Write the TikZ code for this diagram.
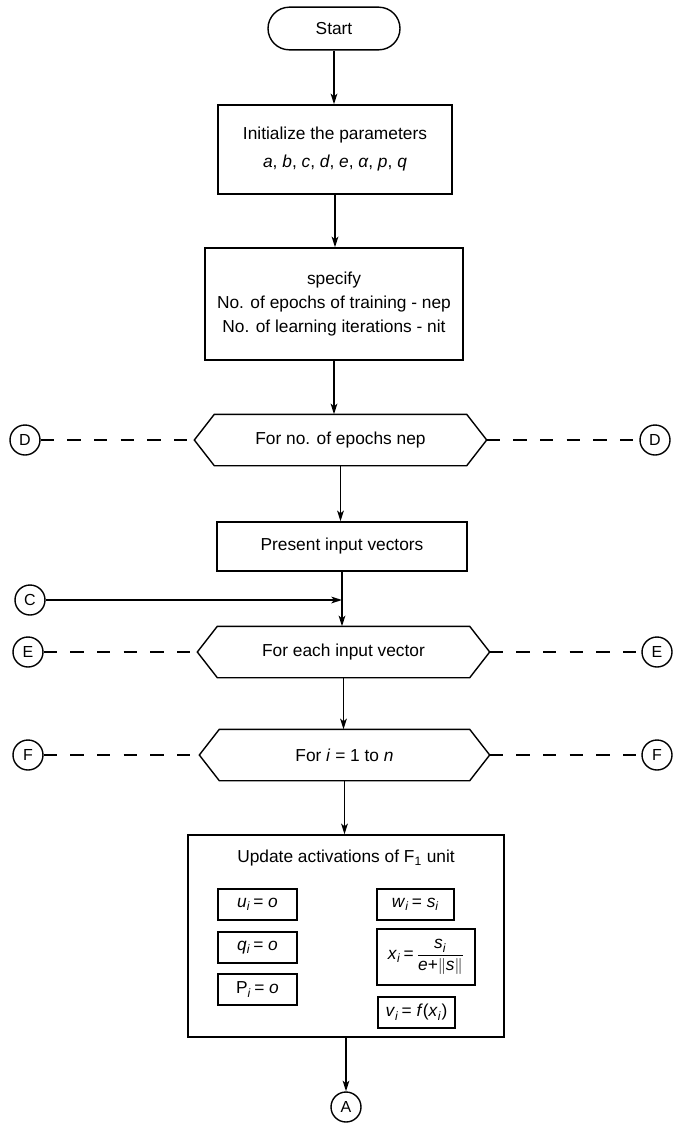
\documentclass[tikz,border=0pt]{standalone}
\usepackage{fontspec}
\setmainfont{Liberation Sans}
\usetikzlibrary{arrows.meta}
\newcommand\hexframe[1]{\draw ([xshift=-15pt]#1.west) -- (#1.north west) -- (#1.north east) -- ([xshift=15pt]#1.east) -- (#1.south east) -- (#1.south west) -- cycle;}
\begin{document}
\begin{tikzpicture}[x=0.75pt,y=-0.75pt,
  font=\fontsize{13}{16}\selectfont,
  line width=1.05pt,
  box/.style={draw, rectangle, inner sep=0pt, align=center},
  hexbox/.style={inner sep=0pt, minimum height=37.5pt, align=center},
  conn/.style={draw, circle, inner sep=0pt, minimum size=22.5pt, font=\fontsize{12}{14}\selectfont},
  fbox/.style={draw, rectangle, inner sep=0pt, line width=1.3pt},
  arr/.style={-{Stealth[length=8pt,width=5pt,inset=2pt]}},
  dsh/.style={dash pattern=on 10pt off 10pt}
]
\useasboundingbox (0,0) rectangle (673,1125);

% main column
\node[box, rounded corners=16pt, minimum width=99pt, minimum height=32pt] (start) at (334,28.5) {Start};
\node[box, minimum width=175.5pt, minimum height=66.75pt] (init) at (335,149.5)
  {Initialize the parameters\\[5pt]\textit{a}, \textit{b}, \textit{c}, \textit{d}, \textit{e}, \textit{α}, \textit{p}, \textit{q}};
\node[box, minimum width=193.5pt, minimum height=84pt] (spec) at (334,304)
  {specify\\[2pt]No. of epochs of training - nep\\[2pt]No. of learning iterations - nit};
\node[hexbox, minimum width=188.25pt] (D) at (340.5,440) {For no. of epochs nep};
\hexframe{D}
\node[box, minimum width=187.5pt, minimum height=36.75pt] (present) at (342,546.5) {Present input vectors};
\node[hexbox, minimum width=188.25pt] (E) at (343.5,652) {For each input vector};
\hexframe{E}
\node[hexbox, minimum width=186.75pt] (F) at (344.5,755) {For \textit{i} = 1 to \textit{n}};
\hexframe{F}
\node[box, minimum width=237pt, minimum height=151.5pt] (update) at (346,936) {};
\node (utitle) at (346,858) {Update activations of F\textsubscript{1} unit};

% formula boxes
\node[fbox, minimum width=59.25pt, minimum height=23.25pt] (ub) at (257.5,904.5) {\textit{u}\textsubscript{\textit{i}}\,= \textit{o}};
\node[fbox, minimum width=59.25pt, minimum height=23.25pt] (qb) at (257.5,947.5) {\textit{q}\textsubscript{\textit{i}}\,= \textit{o}};
\node[fbox, minimum width=59.25pt, minimum height=23.25pt] (pb) at (257.5,989.5) {P\textsubscript{\textit{i}}\,= \textit{o}};
\node[fbox, minimum width=57.75pt, minimum height=23.25pt] (wb) at (415.5,904.5) {\textit{w}\textsubscript{\textit{i}}\,= \textit{s}\textsubscript{\textit{i}}};
\node[fbox, minimum width=73.5pt, minimum height=42pt] (xb) at (426,957)
  {\textit{x}\textsubscript{\textit{i}}\,=\,$\displaystyle\frac{\mbox{\textit{s}\textsubscript{\textit{i}}}\rule[-2pt]{0pt}{2pt}}{\mbox{\textit{e}+}\|\mbox{\textit{s}}\|}$};
\node[fbox, minimum width=57.75pt, minimum height=23.25pt] (vb) at (416.5,1012.5) {\textit{v}\textsubscript{\textit{i}}\,= \textit{f}(\textit{x}\textsubscript{\textit{i}})};

% connectors
\node[conn] (A) at (346,1107) {A};
\node[conn] (C) at (30,600) {C};
\node[conn] (D1) at (25,440) {D};
\node[conn] (D2) at (655,440) {D};
\node[conn] (E1) at (28,652) {E};
\node[conn] (E2) at (657,652) {E};
\node[conn] (F1) at (28,755) {F};
\node[conn] (F2) at (657,755) {F};

% arrows
\draw[arr] (start.south) -- (start.south |- init.north);
\draw[arr] (init.south) -- (init.south |- spec.north);
\draw[arr] (spec.south) -- (spec.south |- D.north);
\draw[arr] (D.south) -- (D.south |- present.north);
\coordinate (cj) at (present.south |- C);
\draw[arr] (present.south) -- (present.south |- E.north);
\draw[arr] (C) -- (cj);
\draw[arr] (E.south) -- (E.south |- F.north);
\draw[arr] (F.south) -- (F.south |- update.north);
\draw[arr] (update.south) -- (A);

% dashed loop links
\draw[dsh] (D1) -- ([xshift=-15pt]D.west);
\draw[dsh] ([xshift=15pt]D.east) -- (D2);
\draw[dsh] (E1) -- ([xshift=-15pt]E.west);
\draw[dsh] ([xshift=15pt]E.east) -- (E2);
\draw[dsh] (F1) -- ([xshift=-15pt]F.west);
\draw[dsh] ([xshift=15pt]F.east) -- (F2);
\end{tikzpicture}
\end{document}
